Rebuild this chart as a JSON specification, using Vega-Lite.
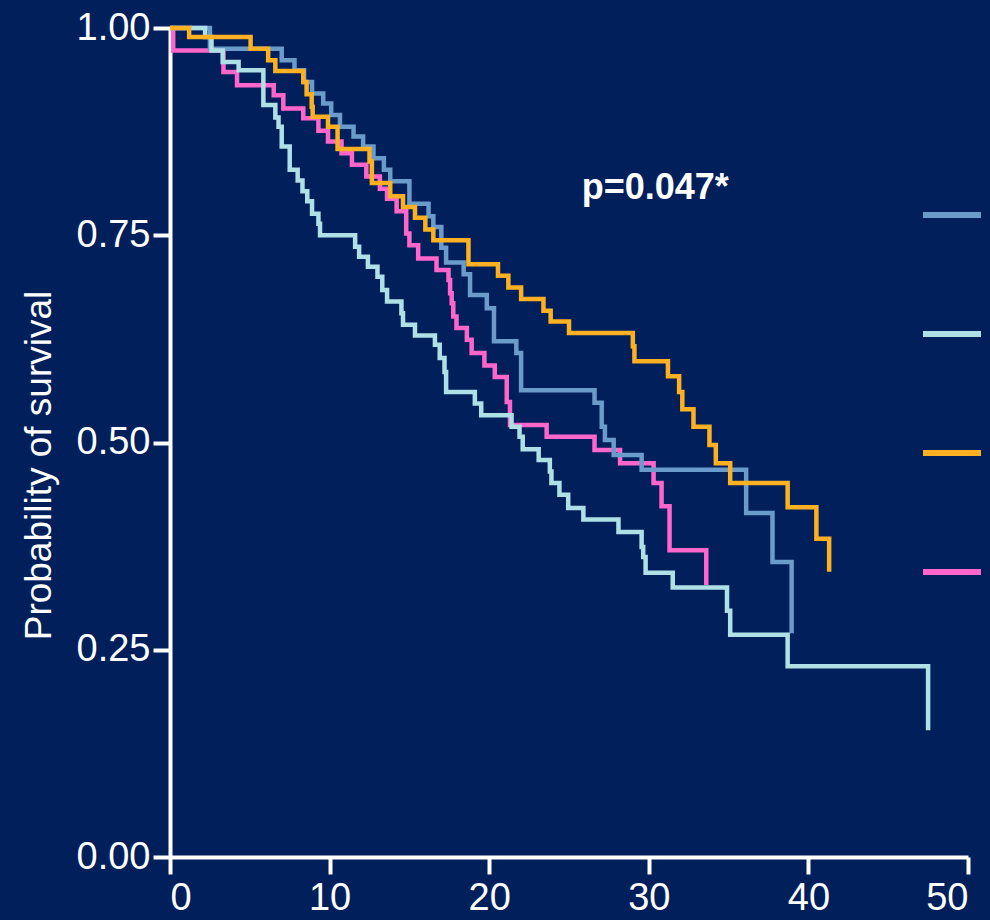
{
  "$schema": "https://vega.github.io/schema/vega-lite/v6.json",
  "width": 798,
  "height": 829,
  "autosize": {"type": "none"},
  "padding": {"left": 170, "top": 28, "right": 22, "bottom": 63},
  "background": "#001F5B",
  "config": {
    "view": {"stroke": null},
    "font": "Liberation Sans",
    "axis": {
      "domainColor": "#FFFFFF",
      "domainWidth": 4,
      "tickColor": "#FFFFFF",
      "tickWidth": 4,
      "tickSize": 17,
      "labelColor": "#FFFFFF",
      "labelFont": "Liberation Sans",
      "labelFontSize": 38,
      "titleColor": "#FFFFFF",
      "titleFont": "Liberation Sans",
      "titleFontSize": 37,
      "titleFontWeight": "normal",
      "grid": false
    }
  },
  "datasets": {
    "km": [
      {"group": "Group 1", "t": 0, "s": 1},
      {"group": "Group 1", "t": 2.5, "s": 0.975},
      {"group": "Group 1", "t": 7.0, "s": 0.961},
      {"group": "Group 1", "t": 7.8, "s": 0.949},
      {"group": "Group 1", "t": 8.4, "s": 0.935},
      {"group": "Group 1", "t": 8.9, "s": 0.921},
      {"group": "Group 1", "t": 9.6, "s": 0.909},
      {"group": "Group 1", "t": 10.1, "s": 0.895},
      {"group": "Group 1", "t": 10.65, "s": 0.881},
      {"group": "Group 1", "t": 11.5, "s": 0.869},
      {"group": "Group 1", "t": 12.1, "s": 0.857},
      {"group": "Group 1", "t": 12.75, "s": 0.843},
      {"group": "Group 1", "t": 13.4, "s": 0.829},
      {"group": "Group 1", "t": 13.8, "s": 0.815},
      {"group": "Group 1", "t": 15.0, "s": 0.788},
      {"group": "Group 1", "t": 16.2, "s": 0.773},
      {"group": "Group 1", "t": 16.5, "s": 0.760},
      {"group": "Group 1", "t": 17.0, "s": 0.735},
      {"group": "Group 1", "t": 17.3, "s": 0.717},
      {"group": "Group 1", "t": 18.4, "s": 0.703},
      {"group": "Group 1", "t": 18.8, "s": 0.678},
      {"group": "Group 1", "t": 19.85, "s": 0.662},
      {"group": "Group 1", "t": 20.3, "s": 0.622},
      {"group": "Group 1", "t": 21.7, "s": 0.608},
      {"group": "Group 1", "t": 22.0, "s": 0.563},
      {"group": "Group 1", "t": 26.6, "s": 0.548},
      {"group": "Group 1", "t": 27.05, "s": 0.519},
      {"group": "Group 1", "t": 27.25, "s": 0.503},
      {"group": "Group 1", "t": 27.8, "s": 0.485},
      {"group": "Group 1", "t": 29.55, "s": 0.467},
      {"group": "Group 1", "t": 36.1, "s": 0.415},
      {"group": "Group 1", "t": 37.75, "s": 0.356},
      {"group": "Group 1", "t": 38.95, "s": 0.270},

      {"group": "Group 2", "t": 0, "s": 1},
      {"group": "Group 2", "t": 2.2, "s": 0.989},
      {"group": "Group 2", "t": 2.6, "s": 0.973},
      {"group": "Group 2", "t": 3.3, "s": 0.959},
      {"group": "Group 2", "t": 4.3, "s": 0.949},
      {"group": "Group 2", "t": 5.85, "s": 0.907},
      {"group": "Group 2", "t": 6.6, "s": 0.892},
      {"group": "Group 2", "t": 6.8, "s": 0.881},
      {"group": "Group 2", "t": 7.0, "s": 0.857},
      {"group": "Group 2", "t": 7.5, "s": 0.829},
      {"group": "Group 2", "t": 8.0, "s": 0.816},
      {"group": "Group 2", "t": 8.3, "s": 0.803},
      {"group": "Group 2", "t": 8.6, "s": 0.791},
      {"group": "Group 2", "t": 8.9, "s": 0.776},
      {"group": "Group 2", "t": 9.3, "s": 0.764},
      {"group": "Group 2", "t": 9.4, "s": 0.750},
      {"group": "Group 2", "t": 11.6, "s": 0.736},
      {"group": "Group 2", "t": 11.85, "s": 0.724},
      {"group": "Group 2", "t": 12.4, "s": 0.712},
      {"group": "Group 2", "t": 13.0, "s": 0.700},
      {"group": "Group 2", "t": 13.3, "s": 0.684},
      {"group": "Group 2", "t": 13.6, "s": 0.670},
      {"group": "Group 2", "t": 14.5, "s": 0.656},
      {"group": "Group 2", "t": 14.6, "s": 0.642},
      {"group": "Group 2", "t": 15.35, "s": 0.629},
      {"group": "Group 2", "t": 16.6, "s": 0.618},
      {"group": "Group 2", "t": 16.9, "s": 0.602},
      {"group": "Group 2", "t": 17.2, "s": 0.585},
      {"group": "Group 2", "t": 17.3, "s": 0.561},
      {"group": "Group 2", "t": 19.1, "s": 0.547},
      {"group": "Group 2", "t": 19.5, "s": 0.533},
      {"group": "Group 2", "t": 21.4, "s": 0.519},
      {"group": "Group 2", "t": 21.9, "s": 0.507},
      {"group": "Group 2", "t": 22.1, "s": 0.492},
      {"group": "Group 2", "t": 23.1, "s": 0.479},
      {"group": "Group 2", "t": 23.8, "s": 0.465},
      {"group": "Group 2", "t": 23.9, "s": 0.451},
      {"group": "Group 2", "t": 24.4, "s": 0.437},
      {"group": "Group 2", "t": 24.95, "s": 0.421},
      {"group": "Group 2", "t": 25.9, "s": 0.407},
      {"group": "Group 2", "t": 28.1, "s": 0.392},
      {"group": "Group 2", "t": 29.55, "s": 0.374},
      {"group": "Group 2", "t": 29.65, "s": 0.362},
      {"group": "Group 2", "t": 29.8, "s": 0.343},
      {"group": "Group 2", "t": 31.5, "s": 0.325},
      {"group": "Group 2", "t": 34.9, "s": 0.297},
      {"group": "Group 2", "t": 35.1, "s": 0.268},
      {"group": "Group 2", "t": 38.7, "s": 0.230},
      {"group": "Group 2", "t": 47.5, "s": 0.153},

      {"group": "Group 3", "t": 0, "s": 1},
      {"group": "Group 3", "t": 1.2, "s": 0.989},
      {"group": "Group 3", "t": 5.05, "s": 0.975},
      {"group": "Group 3", "t": 6.15, "s": 0.961},
      {"group": "Group 3", "t": 6.6, "s": 0.948},
      {"group": "Group 3", "t": 8.35, "s": 0.935},
      {"group": "Group 3", "t": 8.56, "s": 0.920},
      {"group": "Group 3", "t": 8.88, "s": 0.905},
      {"group": "Group 3", "t": 8.94, "s": 0.893},
      {"group": "Group 3", "t": 9.9, "s": 0.881},
      {"group": "Group 3", "t": 10.5, "s": 0.854},
      {"group": "Group 3", "t": 12.5, "s": 0.839},
      {"group": "Group 3", "t": 12.65, "s": 0.813},
      {"group": "Group 3", "t": 13.8, "s": 0.797},
      {"group": "Group 3", "t": 14.6, "s": 0.784},
      {"group": "Group 3", "t": 15.35, "s": 0.771},
      {"group": "Group 3", "t": 16.0, "s": 0.757},
      {"group": "Group 3", "t": 16.5, "s": 0.744},
      {"group": "Group 3", "t": 18.7, "s": 0.715},
      {"group": "Group 3", "t": 20.55, "s": 0.701},
      {"group": "Group 3", "t": 21.2, "s": 0.687},
      {"group": "Group 3", "t": 22.0, "s": 0.673},
      {"group": "Group 3", "t": 23.4, "s": 0.659},
      {"group": "Group 3", "t": 23.85, "s": 0.646},
      {"group": "Group 3", "t": 25.0, "s": 0.632},
      {"group": "Group 3", "t": 29.0, "s": 0.616},
      {"group": "Group 3", "t": 29.1, "s": 0.598},
      {"group": "Group 3", "t": 31.2, "s": 0.580},
      {"group": "Group 3", "t": 31.9, "s": 0.561},
      {"group": "Group 3", "t": 32.1, "s": 0.540},
      {"group": "Group 3", "t": 32.8, "s": 0.519},
      {"group": "Group 3", "t": 33.8, "s": 0.497},
      {"group": "Group 3", "t": 34.2, "s": 0.475},
      {"group": "Group 3", "t": 35.1, "s": 0.451},
      {"group": "Group 3", "t": 38.7, "s": 0.422},
      {"group": "Group 3", "t": 40.5, "s": 0.384},
      {"group": "Group 3", "t": 41.3, "s": 0.344},

      {"group": "Group 4", "t": 0, "s": 1},
      {"group": "Group 4", "t": 0.2, "s": 0.973},
      {"group": "Group 4", "t": 3.35, "s": 0.947},
      {"group": "Group 4", "t": 4.2, "s": 0.931},
      {"group": "Group 4", "t": 6.5, "s": 0.919},
      {"group": "Group 4", "t": 7.1, "s": 0.903},
      {"group": "Group 4", "t": 8.35, "s": 0.891},
      {"group": "Group 4", "t": 9.3, "s": 0.876},
      {"group": "Group 4", "t": 9.9, "s": 0.863},
      {"group": "Group 4", "t": 10.75, "s": 0.849},
      {"group": "Group 4", "t": 11.4, "s": 0.835},
      {"group": "Group 4", "t": 12.3, "s": 0.821},
      {"group": "Group 4", "t": 13.15, "s": 0.806},
      {"group": "Group 4", "t": 13.6, "s": 0.794},
      {"group": "Group 4", "t": 14.2, "s": 0.779},
      {"group": "Group 4", "t": 14.8, "s": 0.752},
      {"group": "Group 4", "t": 15.0, "s": 0.738},
      {"group": "Group 4", "t": 15.55, "s": 0.722},
      {"group": "Group 4", "t": 16.7, "s": 0.708},
      {"group": "Group 4", "t": 17.45, "s": 0.696},
      {"group": "Group 4", "t": 17.55, "s": 0.680},
      {"group": "Group 4", "t": 17.65, "s": 0.668},
      {"group": "Group 4", "t": 17.75, "s": 0.652},
      {"group": "Group 4", "t": 17.95, "s": 0.638},
      {"group": "Group 4", "t": 18.6, "s": 0.624},
      {"group": "Group 4", "t": 18.9, "s": 0.608},
      {"group": "Group 4", "t": 19.7, "s": 0.593},
      {"group": "Group 4", "t": 20.35, "s": 0.579},
      {"group": "Group 4", "t": 21.1, "s": 0.549},
      {"group": "Group 4", "t": 21.3, "s": 0.521},
      {"group": "Group 4", "t": 23.6, "s": 0.507},
      {"group": "Group 4", "t": 26.6, "s": 0.491},
      {"group": "Group 4", "t": 28.2, "s": 0.475},
      {"group": "Group 4", "t": 30.3, "s": 0.451},
      {"group": "Group 4", "t": 30.8, "s": 0.423},
      {"group": "Group 4", "t": 31.3, "s": 0.370},
      {"group": "Group 4", "t": 33.6, "s": 0.328}
    ],
    "pvalue": [
      {"t": 25.8, "s": 0.807, "label": "p=0.047*"}
    ]
  },
  "layer": [
    {
      "data": {"name": "km"},
      "transform": [{"filter": "datum.group === 'Group 4'"}],
      "mark": {"type": "line", "interpolate": "step-after", "strokeWidth": 4.5},
      "encoding": {
        "x": {"field": "t", "type": "quantitative", "scale": {"domain": [0, 50], "nice": false, "zero": false},
              "axis": {"values": [0, 10, 20, 30, 40, 50], "title": null, "labelPadding": 5}},
        "y": {"field": "s", "type": "quantitative", "scale": {"domain": [0, 1], "nice": false},
              "axis": {"values": [0, 0.25, 0.5, 0.75, 1], "format": ".2f", "title": "Probability of survival", "labelPadding": 3, "titlePadding": 18, "titleY": 437}},
        "color": {"field": "group", "type": "nominal",
                  "scale": {"domain": ["Group 1", "Group 2", "Group 3", "Group 4"], "range": ["#6A9BCB", "#AEE0E6", "#FDB022", "#FF66CC"]},
                  "legend": {"orient": "none", "legendX": 750, "legendY": 155, "title": null, "symbolType": "stroke", "symbolSize": 3364, "symbolStrokeWidth": 6, "rowPadding": 75, "padding": 0, "labelExpr": "''", "labelFontSize": 1}}
      }
    },
    {
      "data": {"name": "km"},
      "transform": [{"filter": "datum.group === 'Group 1'"}],
      "mark": {"type": "line", "interpolate": "step-after", "strokeWidth": 4.5},
      "encoding": {
        "x": {"field": "t", "type": "quantitative"},
        "y": {"field": "s", "type": "quantitative"},
        "color": {"field": "group", "type": "nominal",
                  "legend": {"orient": "none", "legendX": 750, "legendY": 155, "title": null, "symbolType": "stroke", "symbolSize": 3364, "symbolStrokeWidth": 6, "rowPadding": 75, "padding": 0, "labelExpr": "''", "labelFontSize": 1}}
      }
    },
    {
      "data": {"name": "km"},
      "transform": [{"filter": "datum.group === 'Group 2'"}],
      "mark": {"type": "line", "interpolate": "step-after", "strokeWidth": 4.5},
      "encoding": {
        "x": {"field": "t", "type": "quantitative"},
        "y": {"field": "s", "type": "quantitative"},
        "color": {"field": "group", "type": "nominal",
                  "legend": {"orient": "none", "legendX": 750, "legendY": 155, "title": null, "symbolType": "stroke", "symbolSize": 3364, "symbolStrokeWidth": 6, "rowPadding": 75, "padding": 0, "labelExpr": "''", "labelFontSize": 1}}
      }
    },
    {
      "data": {"name": "km"},
      "transform": [{"filter": "datum.group === 'Group 3'"}],
      "mark": {"type": "line", "interpolate": "step-after", "strokeWidth": 4.5},
      "encoding": {
        "x": {"field": "t", "type": "quantitative"},
        "y": {"field": "s", "type": "quantitative"},
        "color": {"field": "group", "type": "nominal",
                  "legend": {"orient": "none", "legendX": 750, "legendY": 155, "title": null, "symbolType": "stroke", "symbolSize": 3364, "symbolStrokeWidth": 6, "rowPadding": 75, "padding": 0, "labelExpr": "''", "labelFontSize": 1}}
      }
    },
    {
      "data": {"name": "pvalue"},
      "mark": {"type": "text", "align": "left", "baseline": "middle", "font": "Liberation Sans", "fontSize": 36, "fontWeight": "bold", "color": "#FFFFFF"},
      "encoding": {
        "x": {"field": "t", "type": "quantitative"},
        "y": {"field": "s", "type": "quantitative"},
        "text": {"field": "label"}
      }
    }
  ]
}
